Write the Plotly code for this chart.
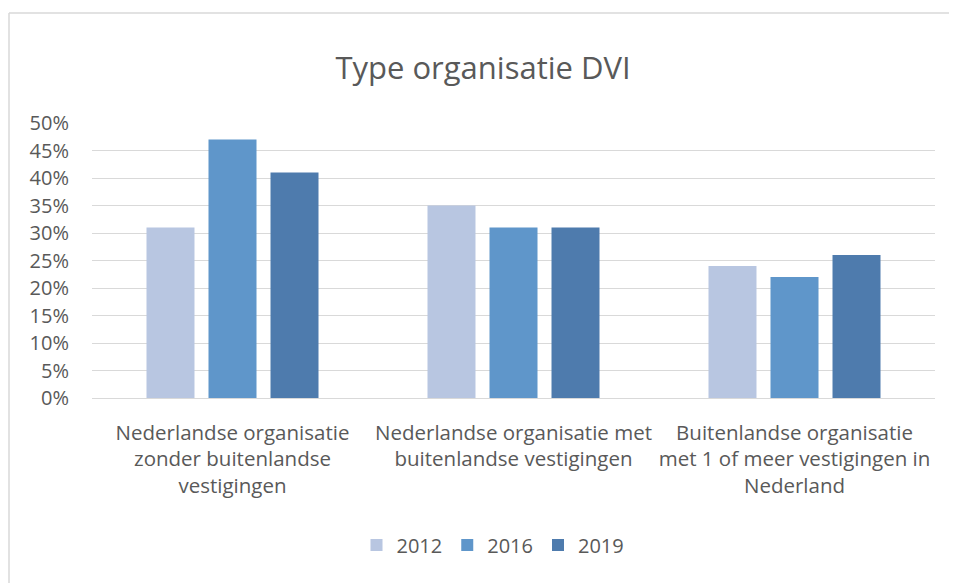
import plotly.graph_objects as go

categories = [
    "Nederlandse organisatie<br>zonder buitenlandse<br>vestigingen",
    "Nederlandse organisatie met<br>buitenlandse vestigingen",
    "Buitenlandse organisatie<br>met 1 of meer vestigingen in<br>Nederland",
]
years = ["2012", "2016", "2019"]
values_2012 = [0.31, 0.35, 0.24]
values_2016 = [0.47, 0.31, 0.22]
values_2019 = [0.41, 0.31, 0.26]
colors = ["#B8C6E1", "#5F96CA", "#4E7BAD"]
tick_vals = [0, 0.05, 0.10, 0.15, 0.20, 0.25, 0.30, 0.35, 0.40, 0.45, 0.50]
tick_text = ["0%", "5%", "10%", "15%", "20%", "25%", "30%", "35%", "40%", "45%", "50%"]

FONT = "Open Sans, Lato, sans-serif"
TXT = "#595959"

fig = go.Figure()
for name, vals, col in zip(years, [values_2012, values_2016, values_2019], colors):
    fig.add_trace(go.Bar(x=categories, y=vals, name=name, marker=dict(color=col, line=dict(width=0))))

OFF = 8  # page body margin
W, H = 957, 583
L, R, T, B = 92 - OFF, 22 + OFF, 123 - OFF, 185 + OFF
pw, ph = W - L - R, H - T - B

fig.update_layout(
    width=W, height=H,
    margin=dict(l=L, r=R, t=T, b=B, autoexpand=False),
    paper_bgcolor="white", plot_bgcolor="white",
    barmode="group", bargap=0.338, bargroupgap=0.226,
    font=dict(family=FONT, color=TXT, size=20),
    title=dict(text="Type organisatie DVI", x=(483 - OFF) / W, xanchor="center",
               y=1 - (68 - OFF) / H, yanchor="middle",
               font=dict(size=31, color=TXT, family=FONT)),
    showlegend=True,
    legend=dict(orientation="h", x=(493 - OFF - L) / pw, xanchor="center",
                y=-(545 - 398) / ph, yanchor="middle",
                font=dict(size=20, color=TXT), traceorder="normal", itemwidth=30),
    yaxis=dict(range=[0, 0.5], tickvals=tick_vals, ticktext=tick_text,
               showgrid=True, gridcolor="#D9D9D9", gridwidth=1, zeroline=False,
               showline=False, tickfont=dict(size=20, color=TXT), ticklabelstandoff=22,
               fixedrange=True, automargin=False),
    xaxis=dict(showline=True, linecolor="#D9D9D9", linewidth=1, showgrid=False,
               tickfont=dict(size=20.5, color=TXT), ticks="", tickangle=0,
               ticklabelstandoff=16, fixedrange=True, automargin=False),
)

# outer chart border: only left and top edges are visible in the reference
bx0 = (9 - OFF - L) / pw
by1 = (H - B - (13 - OFF)) / ph
fig.add_shape(type="line", xref="paper", yref="paper",
              x0=bx0, x1=(W - L) / pw, y0=by1, y1=by1,
              line=dict(color="#D9D9D9", width=1.5), layer="below")
fig.add_shape(type="line", xref="paper", yref="paper",
              x0=bx0, x1=bx0, y0=by1, y1=-(H - T - ph) / ph,
              line=dict(color="#D9D9D9", width=1.5), layer="below")

fig.write_html("out.html")
